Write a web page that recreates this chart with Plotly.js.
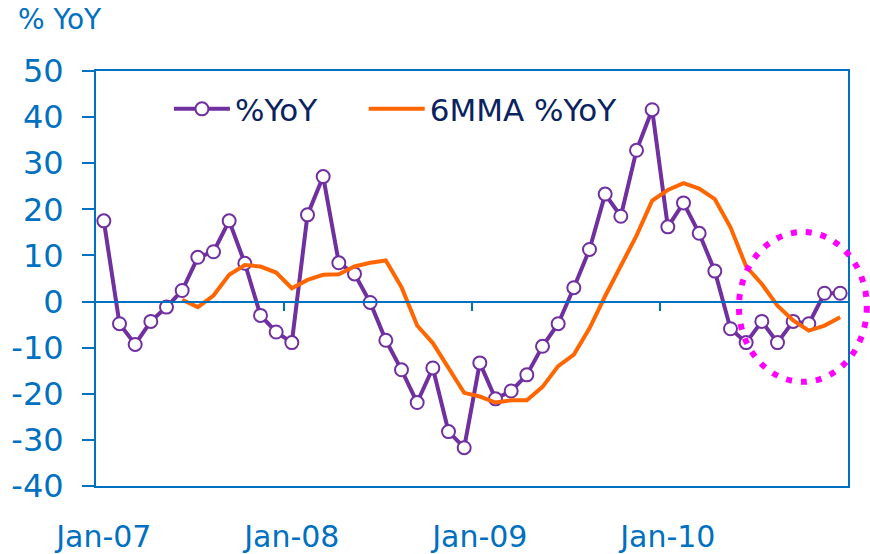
<!DOCTYPE html>
<html>
<head>
<meta charset="utf-8">
<script src="https://cdn.plot.ly/plotly-3.0.1.min.js"></script>
<style>html,body{margin:0;padding:0;background:#fff;}#chart{width:870px;height:554px;}</style>
</head>
<body>
<div id="chart"></div>
<script>
// Months Jan-07 .. Dec-10
const monthNames = ["Jan","Feb","Mar","Apr","May","Jun","Jul","Aug","Sep","Oct","Nov","Dec"];
const years = ["07","08","09","10"];
const months = [];
years.forEach(y => monthNames.forEach(m => months.push(m + "-" + y)));

const yoy = [17.5, -4.8, -9.3, -4.3, -1.2, 2.4, 9.6, 10.8, 17.5, 8.3,
             -3.0, -6.6, -8.9, 18.8, 27.1, 8.4, 6.0, -0.2, -8.4, -14.8,
             -21.9, -14.4, -28.2, -31.7, -13.3, -21.1, -19.4, -15.9, -9.7, -4.8,
             3.0, 11.3, 23.3, 18.5, 32.8, 41.6, 16.2, 21.4, 14.8, 6.6,
             -5.9, -8.9, -4.3, -8.9, -4.3, -4.8, 1.8, 1.8];

const mma6 = [null, null, null, null, null, 0.4, -1.2, 1.3, 5.8, 7.9,
              7.6, 6.3, 2.9, 4.7, 5.8, 5.9, 7.6, 8.4, 8.9, 3.1,
              -5.2, -9.0, -14.6, -19.8, -20.6, -21.9, -21.4, -21.4, -18.5, -14.0,
              -11.5, -5.8, 1.2, 7.6, 14.3, 21.9, 24.2, 25.7, 24.5, 22.2,
              16.1, 7.6, 3.8, -0.9, -4.1, -6.3, -5.2, -3.4];

const xTickLabels = ["Jan-07", "Jan-08", "Jan-09", "Jan-10"];
const yTickVals = [-40, -30, -20, -10, 0, 10, 20, 30, 40, 50];
const yTickText = ["-40", "-30", "-20", "-10", "0", "10", "20", "30", "40", "50"];

const idx = months.map((m, i) => i);
const tickIdx = xTickLabels.map(t => months.indexOf(t));

const blue = "#0070C0";
const font = "DejaVu Sans, Verdana, sans-serif";
const legendFont = {size: 31, color: "#0A2360", family: font};

const traces = [
  {x: idx, y: yoy, name: "%YoY", type: "scatter", mode: "lines+markers",
   line: {color: "#7030A0", width: 4}, legend: "legend",
   marker: {size: 13, color: "#FFFFFF", line: {color: "#7030A0", width: 2}}},
  {x: idx, y: mma6, name: "6MMA %YoY", type: "scatter", mode: "lines",
   line: {color: "#FF6600", width: 4}, legend: "legend2"},
  {x: [], y: [], xaxis: "x2", showlegend: false, hoverinfo: "skip", type: "scatter"}
];

const layout = {
  width: 870, height: 554,
  margin: {l: 96, r: 22, t: 71, b: 68},
  paper_bgcolor: "#FFFFFF", plot_bgcolor: "#FFFFFF",
  font: {family: font, color: blue},
  showlegend: true,
  legend: {orientation: "h", x: 0.097, y: 0.973, xanchor: "left", yanchor: "top",
           font: legendFont, bgcolor: "rgba(0,0,0,0)", itemwidth: 56},
  legend2: {orientation: "h", x: 0.356, y: 0.973, xanchor: "left", yanchor: "top",
           font: legendFont, bgcolor: "rgba(0,0,0,0)", itemwidth: 56},
  xaxis: {type: "linear", range: [-0.5, 47.5], showgrid: false, zeroline: false,
          tickvals: tickIdx, ticktext: xTickLabels, ticks: "outside", ticklen: 23,
          tickcolor: "rgba(0,0,0,0)", tickfont: {size: 30, color: blue, family: font},
          showline: true, linecolor: blue, linewidth: 2, mirror: true},
  xaxis2: {type: "linear", range: [-0.5, 47.5], overlaying: "x", anchor: "free",
           position: 40/90, showgrid: false, zeroline: false, showticklabels: false,
           tickvals: [11.5, 23.5, 35.5], ticks: "outside", ticklen: 8, tickwidth: 2,
           tickcolor: blue, showline: true, linecolor: blue, linewidth: 2},
  yaxis: {range: [-40, 50], tickvals: yTickVals, ticktext: yTickText,
          showgrid: false, zeroline: false,
          ticks: "outside", ticklen: 12, tickwidth: 2, tickcolor: blue,
          ticklabelstandoff: 12,
          tickfont: {size: 32, color: blue, family: font},
          showline: true, linecolor: blue, linewidth: 2, mirror: true},
  annotations: [{text: "% YoY", xref: "paper", yref: "paper", x: -0.106, y: 1.08,
                 xanchor: "left", yanchor: "bottom", showarrow: false,
                 font: {size: 28, color: blue, family: font}}],
  shapes: [{type: "circle", xref: "paper", yref: "paper",
            x0: 0.855, x1: 1.025, y0: 0.251, y1: 0.612,
            line: {color: "#FF00FF", width: 6, dash: "6px,9px"}}]
};

Plotly.newPlot("chart", traces, layout, {displayModeBar: false, staticPlot: true});
</script>
</body>
</html>
